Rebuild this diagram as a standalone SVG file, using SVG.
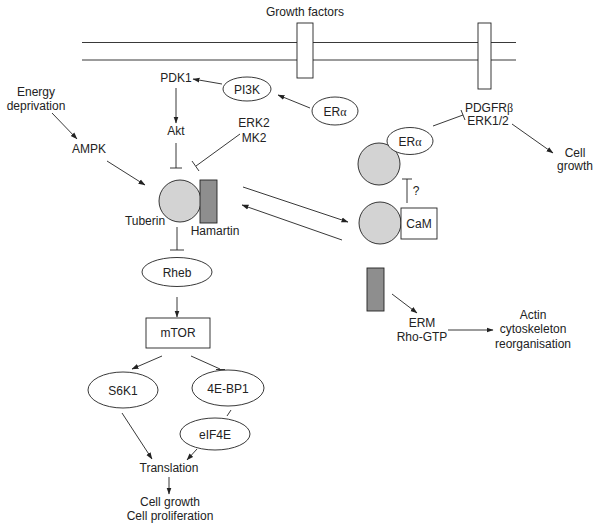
<svg xmlns="http://www.w3.org/2000/svg" width="600" height="528" viewBox="0 0 600 528">
<defs>
<marker id="ah" markerUnits="userSpaceOnUse" markerWidth="7" markerHeight="6" refX="6.5" refY="3" orient="auto">
<path d="M0,0.5 L7,3 L0,5.5 z" fill="#222"/>
</marker>
<style>
text{font-family:"Liberation Sans",Arial,sans-serif;font-size:12px;fill:#222;text-anchor:middle}
.g{font-family:"Liberation Serif","Times New Roman",serif}
.ln{stroke:#222;stroke-width:0.9;fill:none}
.ar{stroke:#222;stroke-width:0.9;fill:none;marker-end:url(#ah)}
.sh{stroke:#222;stroke-width:0.9;fill:#fff}
.lc{stroke:#222;stroke-width:0.9;fill:#d3d3d3}
.dk{stroke:#222;stroke-width:0.9;fill:#8e8e8e}
</style>
</defs>
<rect width="600" height="528" fill="#fff"/>

<g id="membrane">
<line class="ln" x1="82" y1="42.5" x2="516" y2="42.5"/>
<line class="ln" x1="82" y1="60" x2="516" y2="60"/>
<rect class="sh" x="297" y="23" width="16" height="55"/>
<rect class="sh" x="478" y="23" width="13" height="66"/>
<text x="305" y="16">Growth factors</text>
</g>

<g id="connectors">
<line class="ar" x1="222" y1="84" x2="193" y2="79"/>
<line class="ar" x1="176" y1="88" x2="176" y2="123"/>
<line class="ln" x1="176" y1="143" x2="176" y2="168"/>
<line class="ln" x1="170" y1="168" x2="182" y2="168"/>
<line class="ln" x1="240" y1="134" x2="196" y2="166"/>
<line class="ln" x1="192" y1="161" x2="199" y2="171"/>
<line class="ar" x1="52" y1="113" x2="77" y2="139"/>
<line class="ar" x1="107" y1="161" x2="145" y2="185"/>
<line class="ln" x1="177" y1="227" x2="177" y2="250"/>
<line class="ln" x1="170" y1="250" x2="184" y2="250"/>
<line class="ar" x1="177" y1="297" x2="177" y2="317"/>
<line class="ar" x1="162" y1="356" x2="132" y2="369"/>
<line class="ln" x1="191" y1="356" x2="220" y2="369"/>
<line class="ln" x1="216" y1="369.5" x2="225" y2="369.5"/>
<line class="ln" x1="231" y1="410" x2="227" y2="416"/>
<line class="ar" x1="122" y1="413" x2="152" y2="459"/>
<line class="ar" x1="197" y1="449" x2="187" y2="460"/>
<line class="ar" x1="169" y1="477" x2="169" y2="494"/>
<line class="ar" x1="310" y1="108" x2="278" y2="95"/>
<line class="ln" x1="433" y1="126" x2="463" y2="115"/>
<line class="ln" x1="461" y1="110" x2="465" y2="120"/>
<line class="ar" x1="512" y1="124" x2="553" y2="153"/>
<line class="ar" x1="243" y1="187" x2="348" y2="222"/>
<line class="ar" x1="342" y1="240" x2="242" y2="205"/>
<line class="ln" x1="407" y1="203" x2="407" y2="179"/>
<line class="ln" x1="402" y1="179" x2="412" y2="179"/>
<line class="ar" x1="392" y1="294" x2="417" y2="313"/>
<line class="ar" x1="448" y1="330" x2="493" y2="330"/>
</g>

<g id="energy"><text x="36" y="96">Energy</text><text x="36" y="110">deprivation</text></g>
<g id="ampk"><text x="89" y="153">AMPK</text></g>
<g id="pdk1"><text x="176" y="82">PDK1</text></g>
<g id="pi3k"><ellipse class="sh" cx="247" cy="89" rx="24" ry="12"/><text x="247" y="93.5">PI3K</text></g>
<g id="akt"><text x="176" y="135">Akt</text></g>
<g id="erk2"><text x="254" y="127">ERK2</text><text x="254" y="142">MK2</text></g>
<g id="era1"><ellipse class="sh" cx="335" cy="111" rx="23" ry="14"/><text x="335" y="115.5">ER<tspan class="g">α</tspan></text></g>
<g id="pdgfr"><text x="489" y="112">PDGFR<tspan class="g">β</tspan></text><text x="488" y="125">ERK1/2</text></g>
<g id="cellgrowth2"><text x="575" y="157">Cell</text><text x="575" y="170">growth</text></g>

<g id="tsc">
<circle class="lc" cx="180" cy="201" r="21"/>
<rect class="dk" x="200" y="180" width="17" height="43"/>
<text x="145" y="225">Tuberin</text>
<text x="215" y="235">Hamartin</text>
</g>

<g id="tuberin-era">
<circle class="lc" cx="379" cy="164" r="21"/>
<ellipse class="sh" cx="410" cy="141" rx="23" ry="13.5"/>
<text x="410" y="145.5">ER<tspan class="g">α</tspan></text>
</g>
<g id="q"><text x="416" y="195">?</text></g>
<g id="tuberin-cam">
<circle class="lc" cx="380" cy="223" r="21"/>
<rect class="sh" x="401" y="208" width="36" height="31"/>
<text x="419" y="228">CaM</text>
</g>
<g id="hamartin2"><rect class="dk" x="367" y="268" width="17" height="43"/></g>
<g id="erm"><text x="422" y="327">ERM</text><text x="422" y="341">Rho-GTP</text></g>
<g id="actin"><text x="533" y="319">Actin</text><text x="533" y="333">cytoskeleton</text><text x="533" y="348">reorganisation</text></g>

<g id="rheb"><ellipse class="sh" cx="177" cy="272" rx="35" ry="14.5"/><text x="177" y="276.5">Rheb</text></g>
<g id="mtor"><rect class="sh" x="146" y="318" width="64" height="30"/><text x="178" y="337">mTOR</text></g>
<g id="s6k1"><ellipse class="sh" cx="123" cy="390" rx="35" ry="18"/><text x="123" y="394.5">S6K1</text></g>
<g id="ebp1"><ellipse class="sh" cx="228" cy="388" rx="36" ry="18"/><text x="228" y="392.5">4E-BP1</text></g>
<g id="eif4e"><ellipse class="sh" cx="215" cy="434" rx="35" ry="16"/><text x="215" y="438.5">eIF4E</text></g>
<g id="translation"><text x="169" y="472">Translation</text></g>
<g id="cellgrowth"><text x="170" y="506">Cell growth</text><text x="170" y="520">Cell proliferation</text></g>
</svg>
